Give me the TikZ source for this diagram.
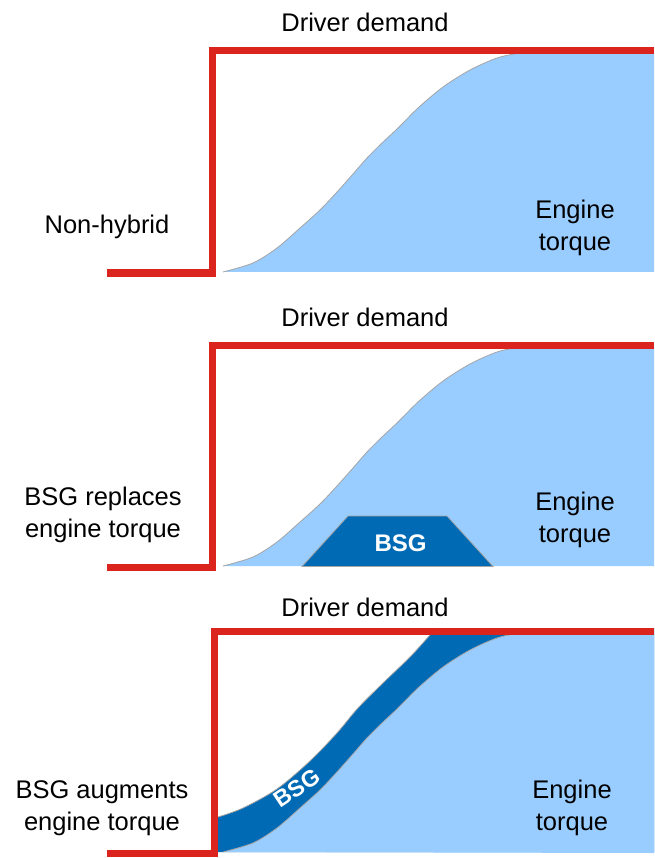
\documentclass[tikz,border=0pt]{standalone}
\usepackage{fontspec}
\setmainfont{Liberation Sans}
\definecolor{demandred}{RGB}{220,36,31}
\definecolor{engblue}{RGB}{153,204,255}
\definecolor{bsgblue}{RGB}{0,106,180}
\definecolor{edgegray}{RGB}{165,165,165}
\begin{document}
\begin{tikzpicture}[x=1pt,y=-1pt,
  engcurve/.style={insert path={plot[smooth,tension=0.5] coordinates {(223,272) (253,263) (277,248) (300,228) (320,210) (337,192) (353,174) (367,158) (381,144) (398,128) (418,108) (443,87) (470,70) (497,58) (520,53) (540,51)}}},
  bsgcurve/.style={insert path={-- plot[smooth,tension=0.5] coordinates {(218,237) (243,228) (277,209) (310,181) (337,153) (358,128) (383,103) (410,77) (430,55) (436,48)}}},
  engfill/.style={fill=engblue},
  edge/.style={draw=edgegray,line width=0.8pt},
  demand/.style={draw=demandred,line width=7pt,miter limit=10},
  lbl/.style={inner sep=0pt,align=center,font=\fontsize{25.5}{31.5}\selectfont},
  bsglbl/.style={inner sep=0pt,text=white,font=\fontsize{24}{28}\selectfont\bfseries}]
\useasboundingbox (0,0) rectangle (654,858);

% Panel 1
\begin{scope}
  \fill[engfill] [engcurve] -- (654,51) -- (654,272) -- cycle;
  \draw[edge] [engcurve];
  \draw[demand] (107,273) -- (212,273) -- (212,51) -- (654,51);
\end{scope}

% Panel 2
\begin{scope}[shift={(0,294)}]
  \fill[engfill] [engcurve] -- (654,51) -- (654,272) -- cycle;
  \draw[edge] [engcurve];
  \draw[edge,fill=bsgblue] (302,272.5) -- (348,222) -- (447,222) -- (493,272.5) -- cycle;
  \draw[demand] (107,273) -- (212,273) -- (212,51) -- (654,51);
\end{scope}

% Panel 3
\begin{scope}[shift={(0,580)}]
  \fill[bsgblue] (218,272) [bsgcurve] -- (654,48) -- (654,272) -- cycle;
  \draw[edge] (218,237) [bsgcurve];
  \fill[engfill] [engcurve] -- (654,51) -- (654,273) -- cycle;
  \draw[edge] [engcurve];
  \draw[demand] (107,273) -- (214,273) -- (214,51) -- (654,51);
\end{scope}

% Labels
\node[lbl] (dd1) at (365,22.5) {Driver demand};
\node[lbl] (dd2) at (365,317.5) {Driver demand};
\node[lbl] (dd3) at (365,607) {Driver demand};
\node[lbl] (nh) at (107,227) {Non-hybrid};
\node[lbl] (rep) at (103,515) {BSG replaces\\engine torque};
\node[lbl] (aug) at (102,808) {BSG augments\\engine torque};
\node[lbl] (et1) at (575,228) {Engine\\torque};
\node[lbl] (et2) at (575,520) {Engine\\torque};
\node[lbl] (et3) at (572,808) {Engine\\torque};
\node[bsglbl] (bsg2) at (400.5,543.5) {BSG};
\node[bsglbl,rotate=34,font=\fontsize{23}{27}\selectfont\bfseries] (bsg3) at (297,788) {BSG};
\end{tikzpicture}
\end{document}
